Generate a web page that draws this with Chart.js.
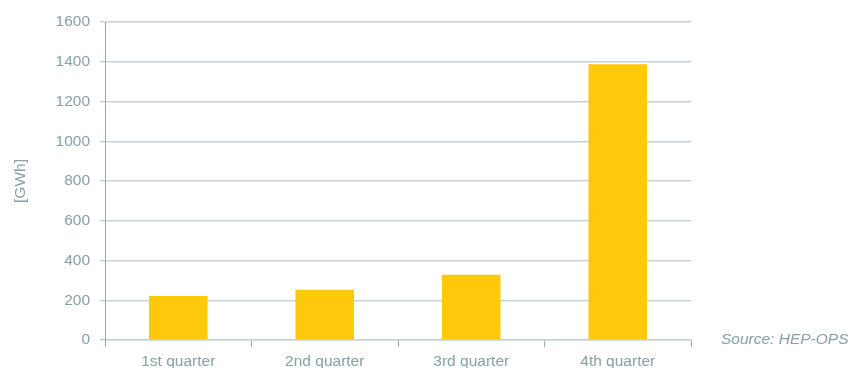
<!DOCTYPE html>
<html>
<head>
<meta charset="utf-8">
<script src="https://cdn.jsdelivr.net/npm/chart.js@4/dist/chart.umd.min.js"></script>
<style>
html,body{margin:0;padding:0;background:#fff;}
canvas{display:block;}
</style>
</head>
<body>
<canvas id="c" width="851" height="368"></canvas>
<script>
const categories = ['1st quarter', '2nd quarter', '3rd quarter', '4th quarter'];
const values = [222, 253, 328, 1388];
const yTicks = [0, 200, 400, 600, 800, 1000, 1200, 1400, 1600];
const unitLabel = '[GWh]';
const sourceText = 'Source: HEP-OPS';

const textColor = '#86a0a8';
const axisColor = '#8fa6ae';
const gridColor = '#c6d4d8';
const barColor = '#fec90b';
const fontFamily = '"Liberation Sans", Arial, sans-serif';
const fontSize = 15.5;

const sourcePlugin = {
  id: 'sourceText',
  afterDraw(chart) {
    const ctx = chart.ctx;
    ctx.save();
    ctx.font = 'italic ' + fontSize + 'px ' + fontFamily;
    ctx.fillStyle = textColor;
    ctx.textAlign = 'left';
    ctx.textBaseline = 'middle';
    ctx.fillText(sourceText, 721, chart.chartArea.bottom);
    ctx.restore();
  }
};

new Chart(document.getElementById('c'), {
  type: 'bar',
  data: {
    labels: categories,
    datasets: [{
      data: values,
      backgroundColor: barColor,
      borderWidth: 0,
      barPercentage: 0.4,
      categoryPercentage: 1.0
    }]
  },
  options: {
    responsive: false,
    animation: false,
    devicePixelRatio: 1,
    layout: { padding: { left: 0, right: 160, top: 22, bottom: 0 } },
    plugins: { legend: { display: false }, tooltip: { enabled: false } },
    scales: {
      x: {
        offset: true,
        grid: { display: true, drawOnChartArea: false, drawTicks: true, tickLength: 7, color: axisColor, offset: true },
        border: { display: true, color: gridColor, width: 1.5 },
        ticks: { color: textColor, font: { family: fontFamily, size: fontSize }, padding: 5, maxRotation: 0 },
        afterFit(scale) { scale.height = 28; }
      },
      y: {
        min: 0, max: 1600,
        afterBuildTicks(scale) { scale.ticks = yTicks.map(v => ({ value: v })); },
        grid: { color: gridColor, lineWidth: 1.5, tickLength: 5, drawTicks: true },
        border: { display: true, color: axisColor, width: 1 },
        ticks: { color: textColor, font: { family: fontFamily, size: fontSize }, padding: 10, callback: v => String(v) },
        title: { display: true, text: unitLabel, color: textColor, font: { family: fontFamily, size: fontSize }, padding: { top: 11, bottom: 0 } },
        afterFit(scale) { scale.width = 105; }
      }
    }
  },
  plugins: [sourcePlugin]
});
</script>
</body>
</html>
